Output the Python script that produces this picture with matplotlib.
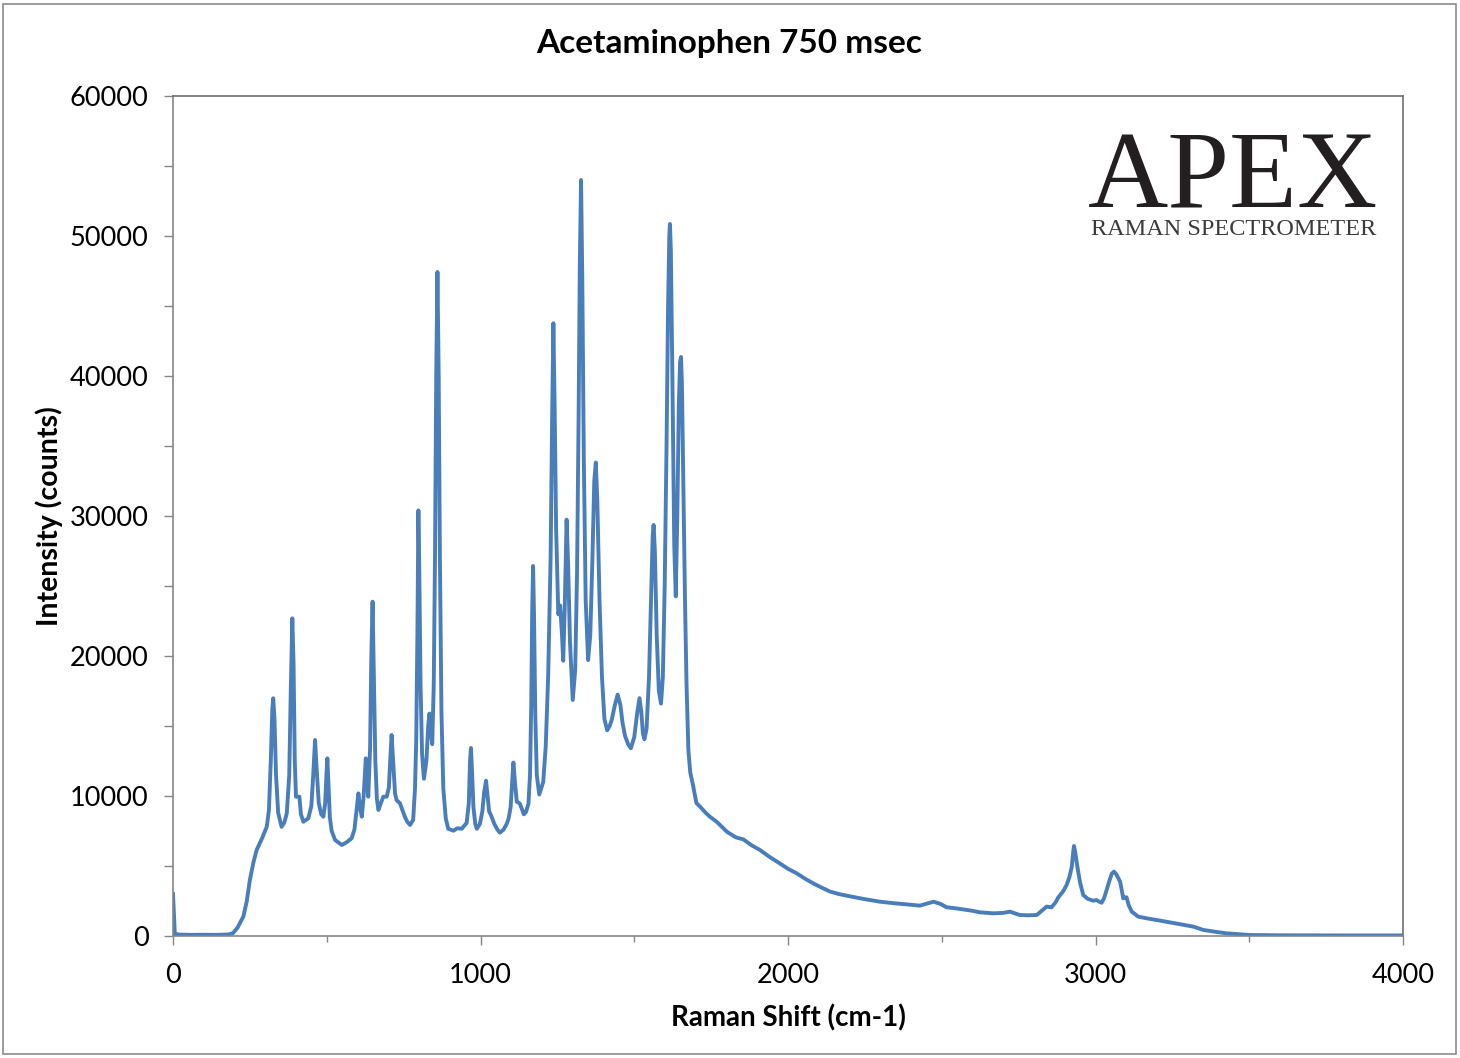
import numpy as np
import matplotlib.pyplot as plt
from matplotlib.patches import Rectangle
from matplotlib.ticker import MultipleLocator

# Raman shift (cm-1) and intensity (counts)
shift = [0, 3, 6, 20, 60, 100, 140, 180, 195, 210, 229, 240, 250, 262, 272, 290, 305,
         312, 318, 323, 326, 330, 335, 342, 353, 362, 370, 378, 383, 388, 392, 396,
         400, 411, 416, 424, 440, 450, 456, 462, 467, 474, 482, 489, 495, 499, 502,
         506, 510, 516, 527, 549, 565, 581, 590, 597, 603, 608, 614, 620, 627, 631,
         635, 641, 645, 649, 653, 658, 663, 668, 676, 684, 695, 702, 707, 711, 716,
         722, 727, 738, 746, 754, 762, 771, 781, 787, 791, 795, 798, 801, 805, 810,
         816, 824, 830, 834, 838, 843, 848, 852, 856, 860, 864, 868, 873, 879, 887,
         895, 912, 925, 939, 955, 962, 966, 969, 972, 977, 983, 988, 998, 1006, 1012,
         1018, 1023, 1028, 1034, 1045, 1055, 1063, 1075, 1085, 1091, 1098, 1103, 1107,
         1112, 1118, 1128, 1141, 1148, 1156, 1161, 1165, 1168, 1171, 1174, 1178, 1183,
         1191, 1204, 1212, 1220, 1228, 1233, 1237, 1241, 1246, 1253, 1259, 1265, 1269,
         1274, 1280, 1285, 1291, 1300, 1308, 1314, 1319, 1323, 1327, 1331, 1336, 1342,
         1350, 1357, 1364, 1370, 1375, 1380, 1387, 1395, 1403, 1412, 1420, 1427, 1437,
         1446, 1455, 1462, 1470, 1480, 1489, 1500, 1510, 1517, 1523, 1528, 1533, 1540,
         1548, 1555, 1560, 1563, 1567, 1573, 1580, 1587, 1593, 1599, 1605, 1610, 1614,
         1616, 1619, 1624, 1630, 1635, 1640, 1645, 1649, 1652, 1655, 1660, 1665, 1670,
         1676, 1682, 1692, 1702, 1714, 1730, 1746, 1768, 1785, 1801, 1830, 1855, 1880,
         1909, 1940, 1973, 2000, 2028, 2055, 2082, 2110, 2137, 2165, 2191, 2245, 2299,
         2350, 2407, 2429, 2450, 2473, 2495, 2516, 2545, 2570, 2600, 2624, 2668, 2700,
         2722, 2740, 2754, 2780, 2809, 2825, 2841, 2857, 2870, 2879, 2895, 2906, 2915,
         2923, 2927, 2930, 2934, 2941, 2950, 2960, 2975, 2993, 3003, 3012, 3020, 3028,
         3036, 3046, 3053, 3060, 3068, 3080, 3086, 3090, 3097, 3101, 3108, 3118, 3139,
         3170, 3210, 3260, 3318, 3335, 3351, 3390, 3427, 3502, 3600, 3800, 4000]
counts = [3000, 1500, 150, 100, 80, 90, 80, 110, 200, 600, 1400, 2500, 4000, 5300, 6140,
          7000, 7810, 9000, 12500, 16200, 16980, 15500, 11500, 8800, 7800, 8100, 8760,
          11500, 17500, 22690, 19500, 12500, 9950, 9950, 8700, 8160, 8400, 9300, 11500,
          14000, 12000, 9500, 8700, 8520, 9500, 11500, 12690, 10500, 8500, 7500, 6860,
          6500, 6700, 6980, 7600, 9000, 10190, 9200, 8520, 10000, 12690, 11200, 9950,
          13500, 20000, 23880, 19000, 12500, 9800, 9000, 9500, 9950, 9950, 10600, 12800,
          14360, 12500, 10200, 9710, 9480, 9000, 8520, 8150, 7930, 8290, 10540, 14000,
          22000, 30400, 26000, 18000, 13000, 11230, 12500, 15000, 15890, 14700, 13700,
          18000, 27000, 40000, 47430, 40000, 27000, 16000, 10540, 8400, 7660, 7520, 7700,
          7660, 8080, 9500, 12500, 13430, 12000, 9200, 8000, 7660, 8000, 8900, 10300,
          11090, 10000, 8900, 8640, 8000, 7600, 7380, 7600, 8000, 8360, 9200, 11000,
          12390, 11000, 9590, 9460, 8690, 8860, 9460, 11500, 16500, 23000, 26430, 23000,
          16000, 11500, 10100, 11000, 13500, 18500, 27000, 37000, 43770, 38000, 29000,
          22980, 23610, 21500, 19660, 23500, 29740, 26500, 21000, 16860, 19000, 26000,
          37000, 48000, 54000, 47000, 34000, 24000, 19710, 21500, 27000, 32500, 33820,
          31000, 24000, 18500, 15500, 14690, 15000, 15460, 16500, 17240, 16500, 15200,
          14300, 13700, 13410, 14200, 16000, 16990, 16000, 14500, 14050, 14800, 18500,
          24500, 28600, 29360, 27500, 21500, 17500, 16600, 18500, 25000, 35000, 45000,
          50000, 50860, 49000, 40000, 28000, 24260, 30000, 38000, 41000, 41360, 39500,
          32000, 24000, 18000, 13290, 11700, 10670, 9500, 9240, 8850, 8520, 8160, 7800,
          7450, 7050, 6900, 6500, 6140, 5650, 5190, 4800, 4480, 4100, 3760, 3450, 3170,
          3000, 2880, 2650, 2450, 2330, 2210, 2170, 2300, 2450, 2300, 2050, 1980, 1900,
          1800, 1690, 1620, 1650, 1740, 1600, 1500, 1480, 1500, 1800, 2100, 2050, 2400,
          2760, 3200, 3640, 4200, 4950, 5900, 6430, 6000, 4950, 3800, 2930, 2650, 2520,
          2570, 2450, 2380, 2700, 3290, 4000, 4450, 4600, 4400, 3880, 3200, 2690, 2760,
          2760, 2200, 1740, 1380, 1250, 1100, 900, 670, 550, 430, 300, 190, 70, 50, 40, 40]

x_ticks = [0, 1000, 2000, 3000, 4000]
y_ticks = [0, 10000, 20000, 30000, 40000, 50000, 60000]

plt.rcParams['font.family'] = ['Lato', 'DejaVu Sans']

fig = plt.figure(figsize=(14.6, 10.58), dpi=100)
ax = fig.add_axes([173 / 1460, 1 - 936 / 1058, 1230 / 1460, 840 / 1058])

ax.plot(shift, counts, color='#4A7EBB', lw=2.8, solid_joinstyle='round')

ax.set_xlim(0, 4000)
ax.set_ylim(0, 60000)
ax.set_xticks(x_ticks)
ax.set_yticks(y_ticks)
ax.xaxis.set_minor_locator(MultipleLocator(500))
ax.yaxis.set_minor_locator(MultipleLocator(5000))
ax.tick_params(axis='both', which='major', direction='out', length=6.5, width=1,
               color='#868686', labelsize=19.5, labelcolor='black')
ax.tick_params(axis='x', which='major', pad=13)
ax.tick_params(axis='y', which='major', pad=11)
ax.tick_params(axis='x', which='minor', direction='out', length=4, width=1, color='#868686')
ax.tick_params(axis='y', which='minor', direction='out', length=6.5, width=1, color='#868686')

for side in ['left', 'bottom']:
    ax.spines[side].set_color('#868686')
    ax.spines[side].set_linewidth(1.2)
for side in ['top', 'right']:
    ax.spines[side].set_color('#6f6f6f')
    ax.spines[side].set_linewidth(1.2)

ax.set_xlabel('Raman Shift (cm-1)', fontsize=20, fontweight='bold', labelpad=12)
ax.set_ylabel('Intensity (counts)', fontsize=20.5, fontweight='bold', labelpad=5)
fig.text(729 / 1460, 1 - 43 / 1058, 'Acetaminophen 750 msec', ha='center', va='center',
         fontsize=24, fontweight='bold')

# logo
ax.text(0.862, 0.8667, 'APEX', transform=ax.transAxes, ha='center', va='baseline',
        family='Liberation Serif', fontsize=80, color='#231f20')
ax.text(0.8625, 0.8345, 'RAMAN SPECTROMETER', transform=ax.transAxes, ha='center',
        va='baseline', family='Liberation Serif', fontsize=17.5, color='#3c3a3a')

# chart area border
fig.patches.append(Rectangle((3 / 1460, 4 / 1058), 1453 / 1460, 1050 / 1058,
                             transform=fig.transFigure, fill=False,
                             edgecolor='#8c8c8c', lw=1.2))

fig.savefig('out.png', dpi=100)
